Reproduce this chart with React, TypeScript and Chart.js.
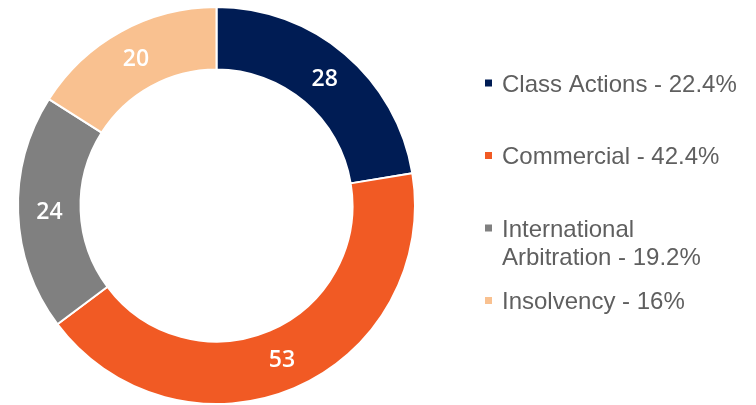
import React, { useEffect, useRef } from "react";
import { Chart, registerables } from "chart.js";

Chart.register(...registerables);

const categories = ["Class Actions", "Commercial", "International Arbitration", "Insolvency"];
const values = [28, 53, 24, 20];
const colors = ["#001c54", "#f15a24", "#808080", "#f9c190"];

const LEGEND_FONT = '24px "Liberation Sans", Arial, sans-serif';
const LABEL_FONT = '600 23px "Open Sans", sans-serif';

function wrapText(ctx: CanvasRenderingContext2D, text: string, maxWidth: number): string[] {
  const words = text.split(" ");
  const lines: string[] = [];
  let cur = "";
  for (const w of words) {
    const test = cur ? cur + " " + w : w;
    if (cur && ctx.measureText(test).width > maxWidth) {
      lines.push(cur);
      cur = w;
    } else {
      cur = test;
    }
  }
  if (cur) lines.push(cur);
  return lines;
}

const sliceLabels = {
  id: "sliceLabels",
  afterDatasetsDraw(chart: any) {
    const ctx = chart.ctx;
    const meta = chart.getDatasetMeta(0);
    const data = chart.data.datasets[0].data as number[];
    ctx.save();
    ctx.font = LABEL_FONT;
    ctx.fillStyle = "#ffffff";
    ctx.textAlign = "center";
    ctx.textBaseline = "middle";
    meta.data.forEach((arc: any, i: number) => {
      const p = arc.tooltipPosition();
      ctx.fillText(String(data[i]), p.x, p.y + 1);
    });
    ctx.restore();
  },
};

const sideLegend = {
  id: "sideLegend",
  afterDraw(chart: any) {
    const ctx = chart.ctx;
    const data = chart.data.datasets[0].data as number[];
    const labels = chart.data.labels as string[];
    const bg = chart.data.datasets[0].backgroundColor as string[];
    const total = data.reduce((a, b) => a + b, 0);
    const markerX = 485;
    const textX = 502;
    const firstBaseline = 91.5;
    const step = 72.5;
    const lineH = 28.5;
    ctx.save();
    ctx.font = LEGEND_FONT;
    ctx.textAlign = "left";
    ctx.textBaseline = "alphabetic";
    labels.forEach((name, i) => {
      const pct = Math.round((data[i] / total) * 1000) / 10;
      const text = `${name} - ${pct}%`;
      const lines = wrapText(ctx, text, 242);
      const base = firstBaseline + step * i;
      ctx.fillStyle = bg[i];
      ctx.fillRect(markerX, base - 12, 7, 7);
      ctx.fillStyle = "#5f5f5f";
      lines.forEach((ln, j) => ctx.fillText(ln, textX, base + j * lineH));
    });
    ctx.restore();
  },
};

export default function App() {
  const ref = useRef<HTMLCanvasElement | null>(null);
  useEffect(() => {
    if (!ref.current) return;
    const chart = new Chart(ref.current, {
      type: "doughnut",
      data: {
        labels: categories,
        datasets: [
          {
            data: values,
            backgroundColor: colors,
            borderColor: "#ffffff",
            borderWidth: 2,
            hoverOffset: 0,
          },
        ],
      },
      options: {
        responsive: false,
        animation: false,
        cutout: "68.5%",
        layout: { padding: { left: 17, right: 340, top: 6, bottom: 0 } },
        plugins: {
          legend: { display: false },
          tooltip: { enabled: false },
        },
      },
      plugins: [sliceLabels, sideLegend],
    });
    return () => chart.destroy();
  }, []);
  return (
    <div style={{ position: "absolute", left: 0, top: 0, width: 756, height: 405, background: "#ffffff" }}>
      <canvas ref={ref} width={756} height={405} style={{ width: 756, height: 405 }} />
    </div>
  );
}
